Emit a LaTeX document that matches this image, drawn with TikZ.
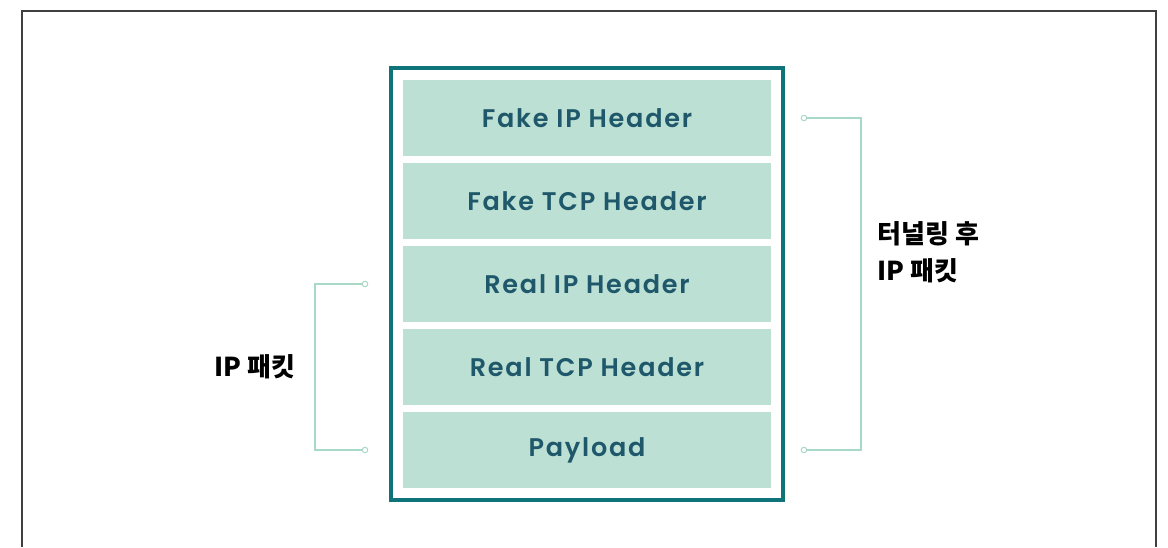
\documentclass[tikz,border=0pt]{standalone}
\usepackage{fontspec}
\setmainfont{Poppins}[UprightFont={* SemiBold}, LetterSpace=7]
\newfontfamily\krfont{Noto Sans CJK KR}
\usepackage{tikz}
\usetikzlibrary{
    positioning,
    fit,
    calc
}
\definecolor{frameTeal}{RGB}{14, 116, 122}
\definecolor{rowGreen}{RGB}{189, 224, 212}
\definecolor{textTeal}{RGB}{30, 88, 106}
\definecolor{braceGreen}{RGB}{168, 216, 198}

\tikzset{
    row/.style={fill=rowGreen, minimum width=368pt, minimum height=76pt,
        inner sep=0pt, outer sep=0pt, text=textTeal,
        font=\fontsize{25.5}{30}\selectfont},
    tip/.style={circle, draw=braceGreen, fill=white, line width=1pt,
        inner sep=0pt, minimum size=5.5pt},
    brace/.style={draw=braceGreen, line width=1.2pt},
    label/.style={font=\krfont\bfseries\fontsize{26}{37}\selectfont, align=left}
}

\begin{document}
\begin{tikzpicture}[x=1pt, y=-1pt]
            \useasboundingbox (0,0) rectangle (1168,547);
            \draw[black!75, line width=1.3pt] (22,547) |- (1156,11) -- (1156,547);

            % the stacked headers
            \node[row] (fakeip) at (587,118) {Fake IP Header};
            \node[row, below=7pt of fakeip] (faketcp) {Fake TCP Header};
            \node[row, below=7pt of faketcp] (realip) {Real IP Header};
            \node[row, below=7pt of realip] (realtcp) {Real TCP Header};
            \node[row, below=7pt of realtcp] (payload) {Payload};
            \node[draw=frameTeal, line width=3.5pt, inner sep=12pt,
                fit=(fakeip)(payload)] (packet) {};

            % IP packet bracket
            \coordinate[left=38pt of realip] (ipTop);
            \coordinate[left=38pt of payload] (ipBot);
            \draw[brace] (ipTop) -- ++(-50,0) |- (ipBot);
            \node[tip] (ipTopTip) at (ipTop) {};
            \node[tip] (ipBotTip) at (ipBot) {};
            \node[label, anchor=east] (ipLabel) at ($(ipTop)!0.5!(ipBot)+(-66,0)$) {IP 패킷};

            % tunneled packet bracket
            \coordinate[right=33pt of fakeip] (tnTop);
            \coordinate[right=33pt of payload] (tnBot);
            \draw[brace] (tnTop) -- ++(57,0) |- (tnBot);
            \node[tip] (tnTopTip) at (tnTop) {};
            \node[tip] (tnBotTip) at (tnBot) {};
            \node[label, anchor=west] (tnLabel) at (874,252) {터널링 후\\IP 패킷};
        \end{tikzpicture}
\end{document}
